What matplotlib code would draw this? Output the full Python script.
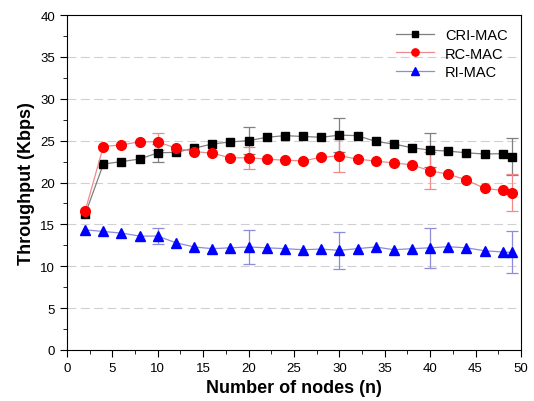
import numpy as np
import matplotlib.pyplot as plt
from matplotlib.ticker import MultipleLocator

plt.rcParams['font.family'] = ['Liberation Sans', 'DejaVu Sans']

nodes = [2, 4, 6, 8, 10, 12, 14, 16, 18, 20, 22, 24, 26, 28, 30, 32, 34, 36, 38, 40, 42, 44, 46, 48, 49]

cri_mac = [16.2, 22.2, 22.5, 22.8, 23.55, 23.6, 24.1, 24.6, 24.85, 25.0, 25.4, 25.6, 25.5,
           25.4, 25.66, 25.6, 24.9, 24.6, 24.15, 23.87, 23.75, 23.55, 23.4, 23.45, 23.07]
rc_mac = [16.6, 24.3, 24.5, 24.86, 24.86, 24.1, 23.7, 23.5, 22.95, 22.95, 22.8, 22.65, 22.6,
          23.0, 23.2, 22.8, 22.55, 22.35, 22.1, 21.4, 21.0, 20.3, 19.3, 19.05, 18.8]
ri_mac = [14.35, 14.15, 13.96, 13.6, 13.6, 12.8, 12.3, 12.1, 12.2, 12.3, 12.2, 12.1, 11.97,
          12.05, 11.9, 12.1, 12.3, 11.97, 12.1, 12.2, 12.33, 12.2, 11.85, 11.7, 11.65]

# error bars only at n = 10, 20, 30, 40, 49
err_nodes = [10, 20, 30, 40, 49]
cri_err = [1.05, 1.6, 2.0, 2.0, 2.2]
rc_err = [1.0, 1.35, 2.0, 2.2, 2.2]
ri_err = [1.0, 2.0, 2.2, 2.4, 2.5]

series = [
    ('CRI-MAC', cri_mac, cri_err, 's', 'black', '#7f7f7f', 6),
    ('RC-MAC', rc_mac, rc_err, 'o', 'red', '#ef8a8a', 7),
    ('RI-MAC', ri_mac, ri_err, '^', 'blue', '#8c8cd9', 7),
]

fig = plt.figure(figsize=(5.34, 4.02), dpi=100)
ax = fig.add_axes([0.1255, 0.127, 0.85, 0.833])

for label, vals, errs, mk, mcol, lcol, ms in series:
    err_y = [vals[nodes.index(n)] for n in err_nodes]
    ax.errorbar(err_nodes, err_y, yerr=errs, fmt='none', ecolor=lcol,
                elinewidth=0.9, capsize=4, capthick=0.9, zorder=2)
    ax.plot(nodes, vals, color=lcol, linewidth=0.9, marker=mk, markersize=ms,
            markerfacecolor=mcol, markeredgecolor=mcol, label=label, zorder=3)

ax.set_xlim(0, 50)
ax.set_ylim(0, 40)
ax.xaxis.set_major_locator(MultipleLocator(5))
ax.xaxis.set_minor_locator(MultipleLocator(2.5))
ax.yaxis.set_major_locator(MultipleLocator(5))
ax.yaxis.set_minor_locator(MultipleLocator(2.5))
ax.tick_params(which='both', direction='out', top=False, right=False, labelsize=9.5)
ax.tick_params(which='major', length=5)
ax.tick_params(which='minor', length=3)

for y in range(5, 40, 5):
    ax.axhline(y, color='#d0d0d0', linewidth=0.8, linestyle=(0, (8, 4)), zorder=1)

ax.set_xlabel('Number of nodes (n)', fontsize=13, fontweight='bold')
ax.set_ylabel('Throughput (Kbps)', fontsize=13, fontweight='bold')

ax.legend(loc='upper right', frameon=False, fontsize=10.5, handlelength=2.6,
          markerscale=0.75, borderaxespad=0.5, labelspacing=0.3)

fig.savefig('out.png', dpi=100)
